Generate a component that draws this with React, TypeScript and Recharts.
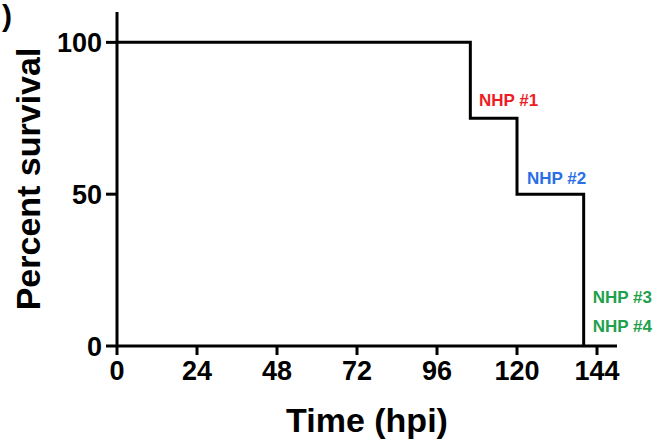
import { LineChart, Line, XAxis, YAxis, ReferenceDot, Label } from "recharts";

const hours = [0, 106, 120, 140];
const survival = [100, 75, 50, 0];
const xTicks = [0, 24, 48, 72, 96, 120, 144];
const yTicks = [0, 50, 100];
const noteText = ["NHP #1", "NHP #2", "NHP #3", "NHP #4"];
const noteHour = [108.6, 123, 142.7, 142.7];
const noteValue = [80.7, 55.2, 16, 6.5];

const noteColors = ["#ee1c24", "#2a6fe6", "#1ea04c", "#1ea04c"];
const font = "'Liberation Sans', Arial, sans-serif";

const data = hours.map((t, i) => ({ t, s: survival[i] }));

const tickStyle = { fill: "#000", fontSize: 27, fontWeight: 700, fontFamily: font };

export default function App() {
  return (
    <div style={{ position: "absolute", left: 0, top: 0, width: 660, height: 440, background: "#fff" }}>
      <LineChart width={660} height={440} data={data} margin={{ top: 12, right: 43, left: 0, bottom: 0 }}>
        <XAxis
          type="number"
          dataKey="t"
          domain={[0, 150]}
          ticks={xTicks}
          allowDataOverflow
          height={94}
          tickSize={9}
          tickMargin={6}
          tick={tickStyle}
          axisLine={{ stroke: "#000", strokeWidth: 3 }}
          tickLine={{ stroke: "#000", strokeWidth: 3 }}
        >
          <Label
            content={({ viewBox }: any) => (
              <text
                x={viewBox.x + viewBox.width / 2}
                y={viewBox.y + 86}
                textAnchor="middle"
                fontSize={34}
                fontWeight={700}
                fontFamily={font}
                fill="#000"
              >
                Time (hpi)
              </text>
            )}
          />
        </XAxis>
        <YAxis
          type="number"
          domain={[0, 110]}
          ticks={yTicks}
          allowDataOverflow
          width={117}
          tickSize={11}
          tickMargin={4}
          tick={tickStyle}
          axisLine={{ stroke: "#000", strokeWidth: 3 }}
          tickLine={{ stroke: "#000", strokeWidth: 3 }}
        >
          <Label
            content={({ viewBox }: any) => {
              const cx = 28;
              const cy = viewBox.y + viewBox.height / 2;
              return (
                <text
                  x={cx}
                  y={cy}
                  transform={`rotate(-90, ${cx}, ${cy})`}
                  textAnchor="middle"
                  dominantBaseline="central"
                  fontSize={34}
                  fontWeight={700}
                  fontFamily={font}
                  fill="#000"
                >
                  Percent survival
                </text>
              );
            }}
          />
        </YAxis>
        <Line
          type="stepAfter"
          dataKey="s"
          stroke="#000"
          strokeWidth={3}
          dot={false}
          isAnimationActive={false}
        />
        {noteText.map((txt, i) => (
          <ReferenceDot
            key={txt}
            x={noteHour[i]}
            y={noteValue[i]}
            r={1}
            fill="none"
            stroke="none"
            ifOverflow="visible"
            label={{
              content: ({ viewBox }: any) => (
                <text
                  x={viewBox.x + viewBox.width / 2}
                  y={viewBox.y + viewBox.height / 2}
                  dominantBaseline="central"
                  textAnchor="start"
                  fontSize={17}
                  fontWeight={700}
                  fontFamily={font}
                  fill={noteColors[i]}
                >
                  {txt}
                </text>
              ),
            }}
          />
        ))}
      </LineChart>
      <svg width={660} height={440} style={{ position: "absolute", left: 0, top: 0, pointerEvents: "none" }}>
        <text x={12} y={26} textAnchor="end" fontSize={30} fontWeight={700} fontFamily={font} fill="#000">
          )
        </text>
      </svg>
    </div>
  );
}
